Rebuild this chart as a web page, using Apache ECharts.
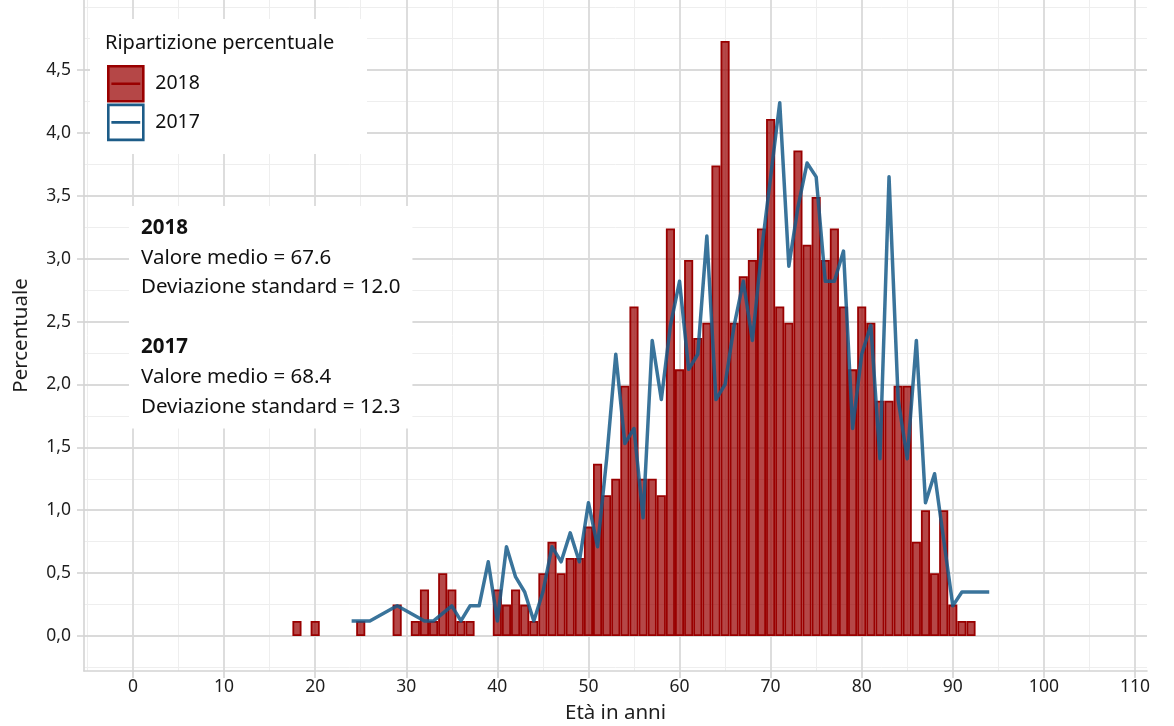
<!DOCTYPE html>
<html>
<head>
<meta charset="utf-8">
<script src="https://cdn.jsdelivr.net/npm/echarts@6.0.0/dist/echarts.min.js"></script>
<style>
html,body{margin:0;padding:0;background:#fff;}
#chart{width:1174px;height:726px;}
</style>
</head>
<body>
<div id="chart"></div>
<script>
// ---- data ----
const ages2018 = [18,20,25,29,31,32,33,34,35,36,37,40,41,42,43,44,45,46,47,48,49,50,51,52,53,54,55,56,57,58,59,60,61,62,63,64,65,66,67,68,69,70,71,72,73,74,75,76,77,78,79,80,81,82,83,84,85,86,87,88,89,90,91,92];
const pct2018 = [0.12,0.12,0.12,0.25,0.12,0.37,0.12,0.50,0.37,0.12,0.12,
  0.37,0.25,0.37,0.25,0.12,0.50,0.75,0.50,0.62,0.62,
  0.87,1.37,1.12,1.25,1.99,2.62,1.25,1.25,1.12,3.24,
  2.12,2.99,2.37,2.49,3.74,4.73,2.49,2.86,2.99,3.24,
  4.11,2.62,2.49,3.86,3.11,3.49,2.99,3.24,2.62,2.12,
  2.62,2.49,1.87,1.87,1.99,1.99,0.75,1.00,0.50,1.00,0.25,0.12,0.12];
const ages2017 = [24,25,26,29,32,33,35,36,37,38,39,40,41,42,43,44,45,46,47,48,49,50,51,52,53,54,55,56,57,58,59,60,61,62,63,64,65,66,67,68,69,70,71,72,73,74,75,76,77,78,79,80,81,82,83,84,85,86,87,88,90,91,92,93,94];
const pct2017 = [0.12,0.12,0.12,0.24,0.12,0.12,0.24,0.12,0.24,0.24,
  0.59,0.12,0.71,0.47,0.35,0.12,0.35,0.71,0.59,0.82,
  0.59,1.06,0.71,1.41,2.24,1.53,1.65,0.94,2.35,1.88,
  2.47,2.82,2.12,2.24,3.18,1.88,2.00,2.47,2.82,2.35,
  3.06,3.65,4.24,2.94,3.41,3.76,3.65,2.82,2.82,3.06,
  1.65,2.24,2.47,1.41,3.65,1.88,1.41,2.35,1.06,1.29,
  0.24,0.35,0.35,0.35,0.35];
const seriesNames = ['2018','2017'];
const statYears = ['2018','2017'];
const statMeans = ['67.6','68.4'];
const statSds = ['12.0','12.3'];
const xTicks = [0,10,20,30,40,50,60,70,80,90,100,110];
const xMinorTicks = [-5,5,15,25,35,45,55,65,75,85,95,105];
const yTicks = [0,0.5,1,1.5,2,2.5,3,3.5,4,4.5];
const yMinorTicks = [-0.25,0.25,0.75,1.25,1.75,2.25,2.75,3.25,3.75,4.25,4.75,5];

// ---- chart ----
const FONT = 'Noto Sans';
const XMIN = -5.38, XMAX = 111.32, YMIN = -0.278, YMAX = 5.056;
const majorGrid = '#dadada', minorGrid = '#eeeeee';
const keyPath = 'path://M0,0 L34,0 L34,34 L0,34 Z M3,17 L31,17';

let annot = [];
statYears.forEach((y, i) => {
  if (i > 0) annot.push('{n| }');
  annot.push('{b|' + y + '}');
  annot.push('{n|Valore medio = ' + statMeans[i] + '}');
  annot.push('{n|Deviazione standard = ' + statSds[i] + '}');
});

const chart = echarts.init(document.getElementById('chart'), null, {renderer: 'canvas'});
chart.setOption({
  animation: false,
  backgroundColor: '#ffffff',
  textStyle: {fontFamily: FONT},
  grid: {left: 84, right: 27, top: 0, bottom: 55, containLabel: false, outerBoundsMode: 'none'},
  xAxis: [{
    type: 'value', min: XMIN, max: XMAX, position: 'bottom', z: 1,
    axisLine: {show: true, onZero: false, lineStyle: {color: '#d4d4d4', width: 1.6}},
    axisTick: {show: true, customValues: xTicks, length: 7, lineStyle: {color: '#d4d4d4', width: 1.6}},
    axisLabel: {customValues: xTicks, fontSize: 17.5, color: '#1e1e1e', margin: 7, fontFamily: FONT},
    splitLine: {show: true, lineStyle: {color: majorGrid, width: 1.8}},
    name: 'Età in anni', nameLocation: 'middle', nameGap: 32,
    nameTextStyle: {fontSize: 20.5, color: '#1e1e1e', fontFamily: FONT}
  }, {
    type: 'value', min: XMIN, max: XMAX, position: 'top', z: 0,
    axisLine: {show: false}, axisTick: {show: false, customValues: xMinorTicks},
    axisLabel: {show: false, customValues: xMinorTicks},
    splitLine: {show: true, lineStyle: {color: minorGrid, width: 1}}
  }],
  yAxis: [{
    type: 'value', min: YMIN, max: YMAX, position: 'left', z: 1,
    axisLine: {show: true, onZero: false, lineStyle: {color: '#d4d4d4', width: 1.6}},
    axisTick: {show: true, customValues: yTicks, length: 7, lineStyle: {color: '#d4d4d4', width: 1.6}},
    axisLabel: {customValues: yTicks, fontSize: 17.5, color: '#1e1e1e', margin: 13, fontFamily: FONT,
      formatter: v => v.toFixed(1).replace('.', ',')},
    splitLine: {show: true, lineStyle: {color: majorGrid, width: 1.8}},
    name: 'Percentuale', nameLocation: 'middle', nameGap: 52,
    nameTextStyle: {fontSize: 20.5, color: '#1e1e1e', fontFamily: FONT}
  }, {
    type: 'value', min: YMIN, max: YMAX, position: 'right', z: 0,
    axisLine: {show: false}, axisTick: {show: false, customValues: yMinorTicks},
    axisLabel: {show: false, customValues: yMinorTicks},
    splitLine: {show: true, lineStyle: {color: minorGrid, width: 1}}
  }],
  title: {
    text: 'Ripartizione percentuale', left: 105, top: 33, padding: 0,
    textStyle: {fontSize: 20, fontWeight: 'normal', color: '#111', fontFamily: FONT}
  },
  legend: {
    orient: 'vertical', left: 107, top: 65, padding: 0,
    itemWidth: 35, itemHeight: 35, itemGap: 1, selectedMode: false,
    textStyle: {fontSize: 19.5, color: '#111', fontFamily: FONT, padding: [0, 0, 0, 7]},
    data: [
      {name: seriesNames[0], icon: keyPath, itemStyle: {color: 'rgba(153,0,0,0.72)', borderColor: '#990000', borderWidth: 2.6}},
      {name: seriesNames[1], icon: keyPath, itemStyle: {color: '#ffffff', borderColor: '#1d5c88', borderWidth: 2.6}}
    ]
  },
  graphic: [
    {type: 'rect', z: 3, shape: {x: 90, y: 19, width: 277, height: 135}, style: {fill: '#ffffff'}, silent: true},
    {type: 'text', z: 3, left: 129, top: 206, silent: true,
      style: {
        text: annot.join('\n'),
        backgroundColor: '#ffffff', padding: [7, 12, 7, 12],
        rich: {
          b: {fontFamily: FONT, fontSize: 20.5, fontWeight: 'bold', lineHeight: 29.8, fill: '#111'},
          n: {fontFamily: FONT, fontSize: 20.5, lineHeight: 29.8, fill: '#111'}
        }
      }}
  ],
  series: [{
    name: seriesNames[0], type: 'bar', xAxisIndex: 0, yAxisIndex: 0, z: 2,
    barWidth: 9.1,
    itemStyle: {color: 'rgba(153,0,0,0.72)', borderColor: '#990000', borderWidth: 1.8},
    data: ages2018.map((a, i) => [a, pct2018[i]])
  }, {
    name: seriesNames[1], type: 'line', xAxisIndex: 0, yAxisIndex: 0, z: 3,
    symbol: 'none', showSymbol: false,
    lineStyle: {color: '#185c8a', width: 3.5, opacity: 0.85, join: 'round'},
    itemStyle: {color: '#185c8a'},
    data: ages2017.map((a, i) => [a, pct2017[i]])
  }]
});
</script>
</body>
</html>
